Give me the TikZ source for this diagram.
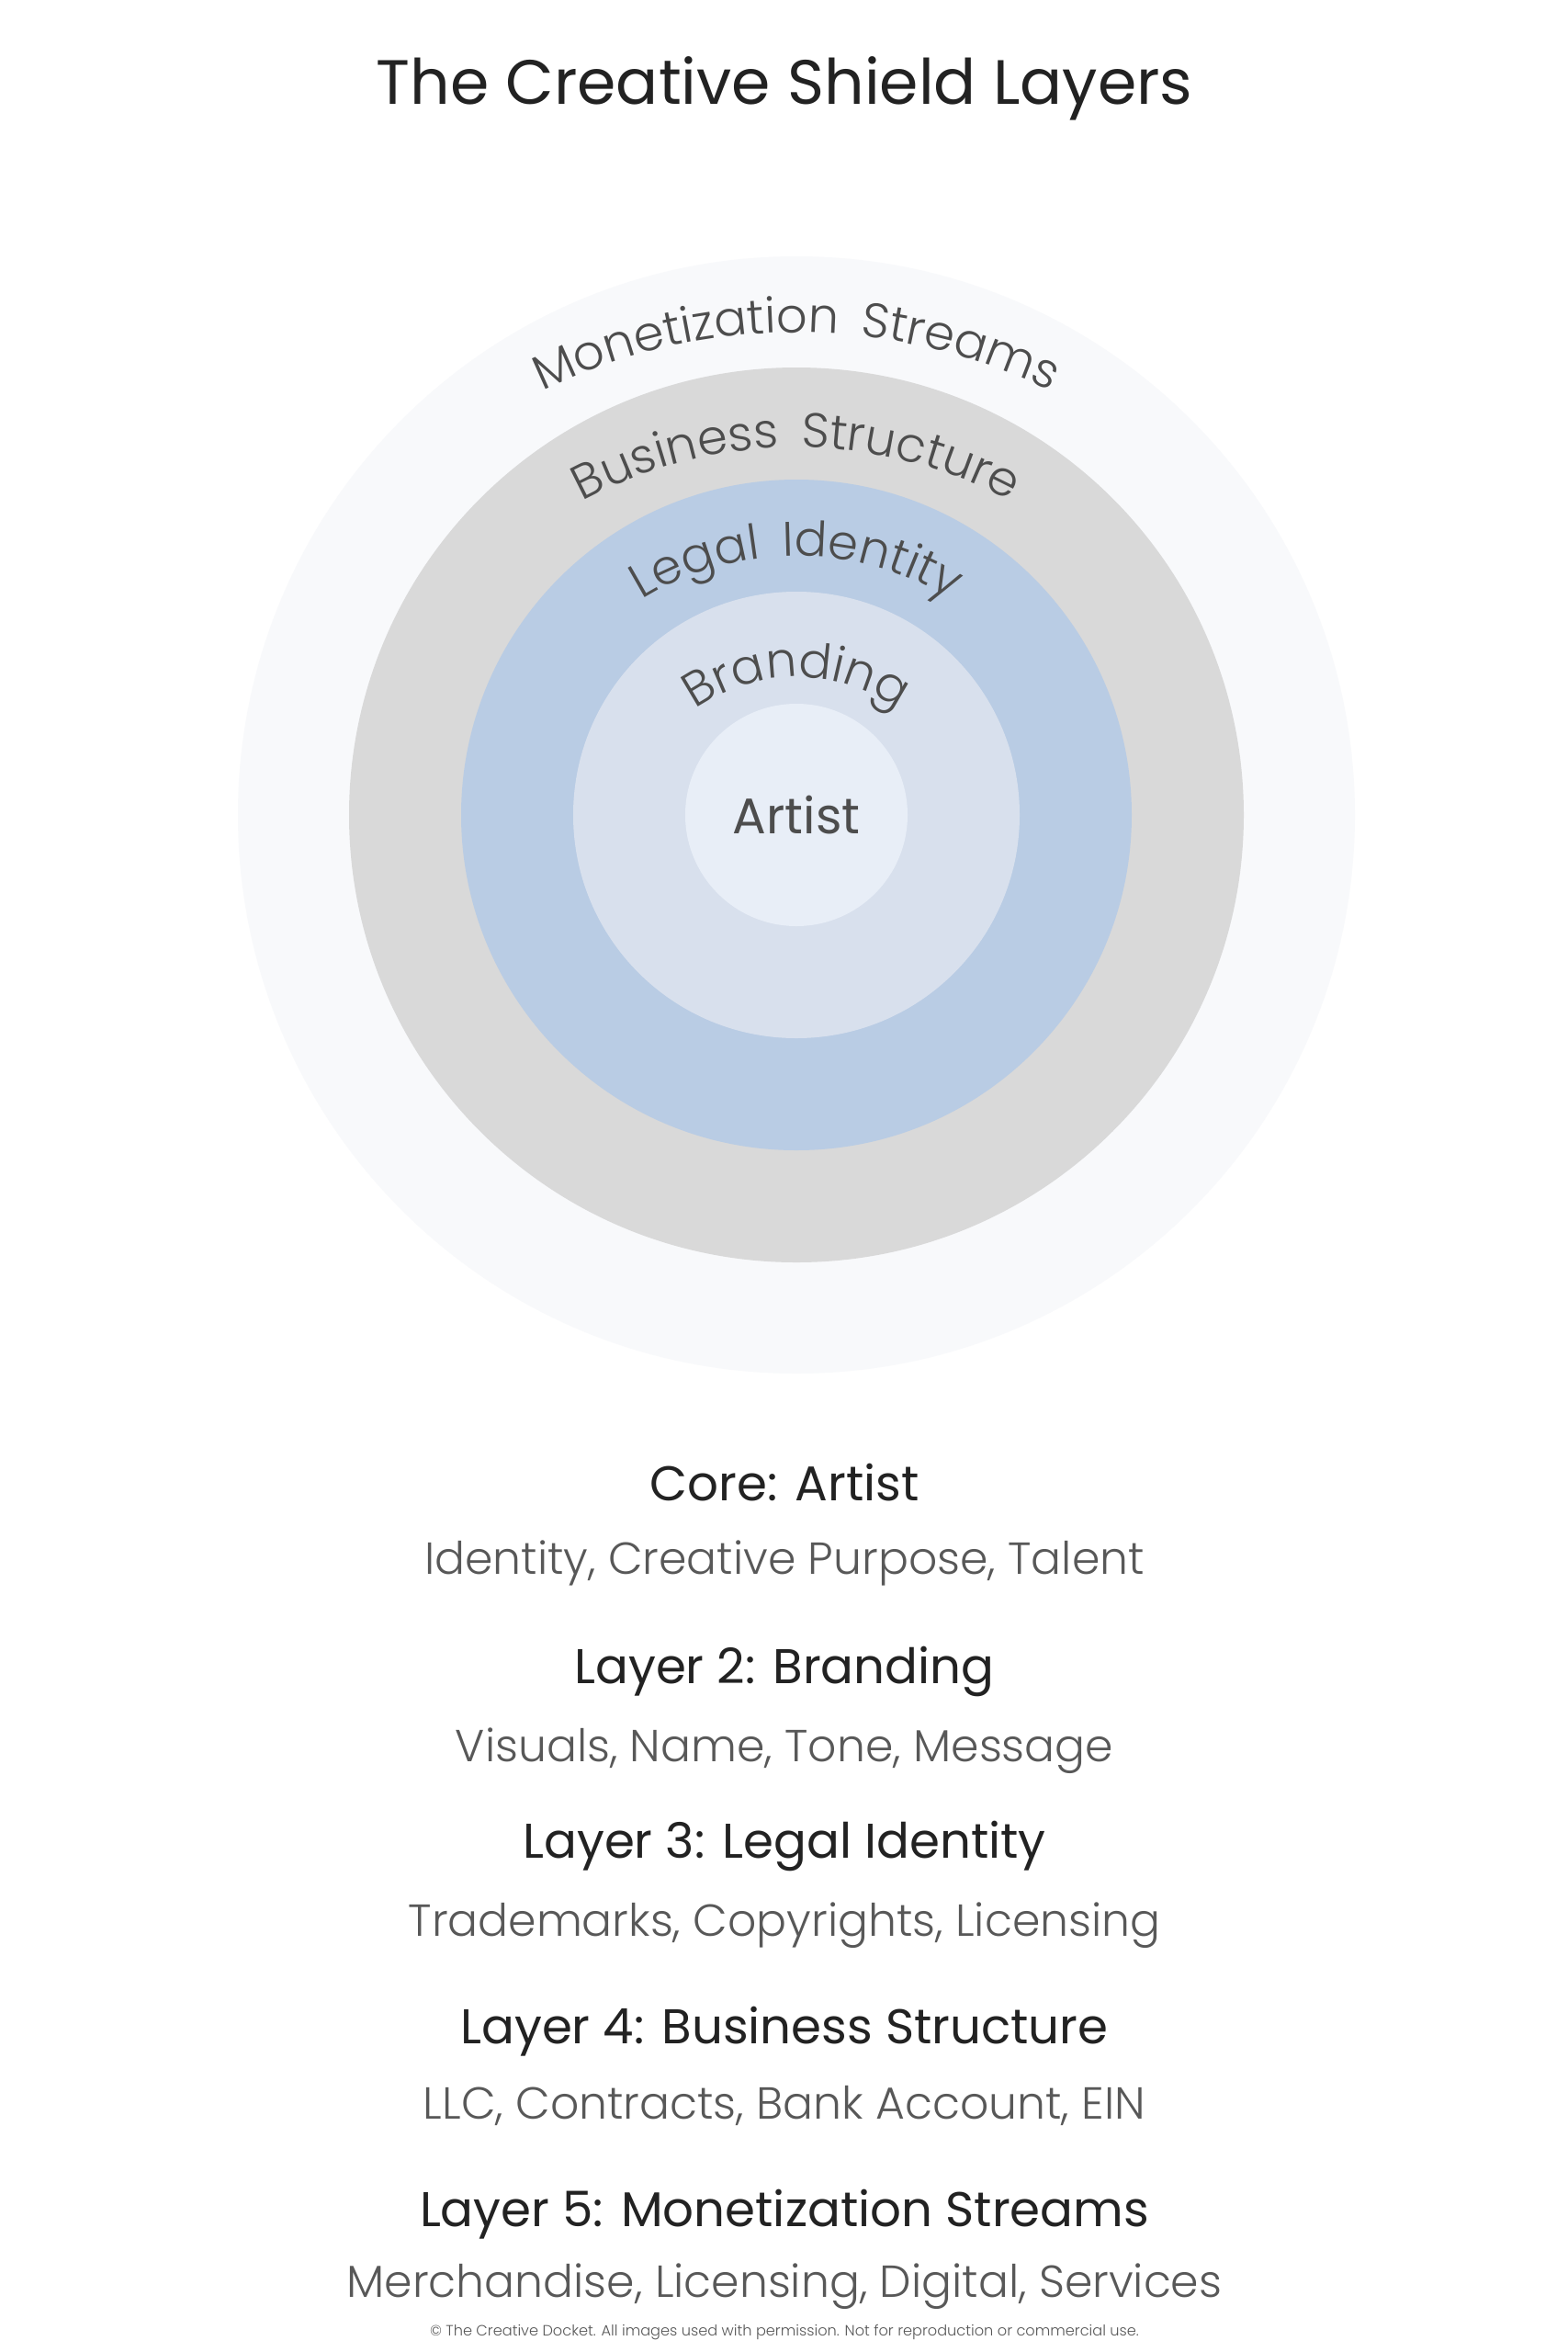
\documentclass[tikz,border=0pt]{standalone}
\usepackage{fontspec}
\usepackage{xcolor}
\usepackage{tikz}
\usetikzlibrary{decorations.text}
\setmainfont{Poppins}
\newfontfamily\lightfont{Poppins Light}
\newfontfamily\arcfont{Poppins Light}[LetterSpace=18]
\definecolor{monetization}{RGB}{248,249,251}
\definecolor{business}{RGB}{217,217,217}
\definecolor{legal}{RGB}{185,204,228}
\definecolor{branding}{RGB}{216,224,237}
\definecolor{artist}{RGB}{232,238,247}
\definecolor{titletext}{RGB}{34,34,34}
\definecolor{bodytext}{RGB}{88,88,88}
\definecolor{ringtext}{RGB}{77,77,77}

\begin{document}
\begin{tikzpicture}[
  heading/.style={anchor=base, inner sep=0pt, text=titletext, font=\fontsize{15.1}{18}\selectfont},
  detail/.style={anchor=base, inner sep=0pt, text=bodytext, font=\lightfont\fontsize{13.9}{16}\selectfont},
  ringlabel/.style={decorate, decoration={text along path, text align=center,
    text={|\arcfont\fontsize{15}{18}\selectfont\color{ringtext}|#1}}},
]
\fill[white] (0,0) rectangle (17.07,-25.6);
\useasboundingbox (0,0) rectangle (17.07,-25.6);

% rings, outside in
\coordinate (centre) at (8.67,-8.87);
\fill[monetization] (centre) circle (6.08);
\fill[business] (centre) circle (4.87);
\fill[legal] (centre) circle (3.65);
\fill[branding] (centre) circle (2.43);
\fill[artist] (centre) circle (1.21);

% curved ring names
\path[ringlabel={Monetization Streams}] ([yshift=-1.05cm]centre) ++(130:6.3) arc[start angle=130, end angle=50, radius=6.3];
\path[ringlabel={Business Structure}] ([yshift=-0.9cm]centre) ++(135:4.9) arc[start angle=135, end angle=45, radius=4.9];
\path[ringlabel={Legal Identity}] ([yshift=-0.38cm]centre) ++(140:3.2) arc[start angle=140, end angle=40, radius=3.2];
\path[ringlabel={Branding}] ([yshift=-0.4cm]centre) ++(150:1.9) arc[start angle=150, end angle=30, radius=1.9];
\node[inner sep=0pt, text=ringtext, font=\fontsize{15.5}{18}\selectfont] (artistname) at (centre) {Artist};

\node[anchor=base, inner sep=0pt, text=titletext, font=\fontsize{19.4}{23}\selectfont] (title) at (8.54,-1.13) {The Creative Shield Layers};

% legend below the rings
\node[heading] (core) at (8.54,-16.33) {Core: Artist};
\node[detail] (coreitems) at (8.54,-17.13) {Identity, Creative Purpose, Talent};
\node[heading] (layertwo) at (8.54,-18.32) {Layer 2: Branding};
\node[detail] (layertwoitems) at (8.54,-19.17) {Visuals, Name, Tone, Message};
\node[heading] (layerthree) at (8.54,-20.22) {Layer 3: Legal Identity};
\node[detail] (layerthreeitems) at (8.54,-21.07) {Trademarks, Copyrights, Licensing};
\node[heading] (layerfour) at (8.54,-22.24) {Layer 4: Business Structure};
\node[detail] (layerfouritems) at (8.54,-23.06) {LLC, Contracts, Bank Account, EIN};
\node[heading] (layerfive) at (8.54,-24.23) {Layer 5: Monetization Streams};
\node[detail] (layerfiveitems) at (8.54,-25.00) {Merchandise, Licensing, Digital, Services};
\node[anchor=base, inner sep=0pt, text=bodytext, font=\lightfont\fontsize{4.6}{5}\selectfont] (notice) at (8.54,-25.42) {© The Creative Docket. All images used with permission. Not for reproduction or commercial use.};
\end{tikzpicture}
\end{document}
